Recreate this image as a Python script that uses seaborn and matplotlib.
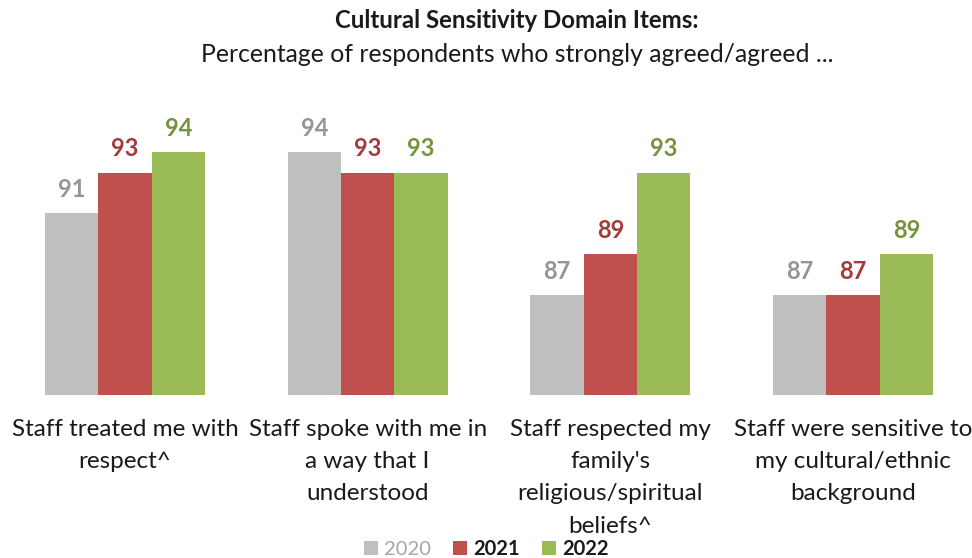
import matplotlib
matplotlib.use("Agg")
import matplotlib.pyplot as plt
from matplotlib.patches import Patch
import seaborn as sns
import pandas as pd

# Survey items and yearly agreement percentages
items = [
    "Staff treated me with\nrespect^",
    "Staff spoke with me in\na way that I\nunderstood",
    "Staff respected my\nfamily's\nreligious/spiritual\nbeliefs^",
    "Staff were sensitive to\nmy cultural/ethnic\nbackground",
]
years = ["2020", "2021", "2022"]
pct_2020 = [91, 94, 87, 87]
pct_2021 = [93, 93, 89, 87]
pct_2022 = [94, 93, 93, 89]

bar_colors = ["#BFBFBF", "#C0504D", "#9BBB59"]
label_colors = ["#959595", "#A33B3A", "#76923C"]

df = pd.DataFrame({
    "item": items * 3,
    "year": [y for y in years for _ in items],
    "pct": pct_2020 + pct_2021 + pct_2022,
})

sns.set_theme(style="white")
plt.rcParams["font.family"] = ["Lato", "DejaVu Sans"]

fig = plt.figure(figsize=(9.72, 5.58), dpi=100)
ax = fig.add_axes([3.5 / 972, 163 / 558, 971 / 972, 283.6 / 558])

sns.barplot(data=df, x="item", y="pct", hue="year", order=items,
            hue_order=years, palette=bar_colors, width=0.66,
            saturation=1, legend=False, linewidth=0, ax=ax)

ax.set_ylim(82.1, 96.0)
ax.set_xlim(-0.5, 3.5)
for cont, col in zip(ax.containers, label_colors):
    ax.bar_label(cont, fmt="%.0f", padding=9, color=col,
                 fontsize=17, fontweight="bold", clip_on=False)

ax.set_xlabel("")
ax.set_ylabel("")
ax.set_yticks([])
ax.tick_params(axis="x", length=0, pad=17, labelsize=17.5)
for lbl in ax.get_xticklabels():
    lbl.set_linespacing(1.67)
    lbl.set_color("#1a1a1a")
    lbl.set_verticalalignment("top")
sns.despine(ax=ax, left=True, bottom=True)

fig.text(0.532, 1 - 20 / 558, "Cultural Sensitivity Domain Items:",
         ha="center", va="center", fontsize=17.3, fontweight="bold",
         color="#1a1a1a")
fig.text(0.532, 1 - 55 / 558,
         "Percentage of respondents who strongly agreed/agreed ...",
         ha="center", va="center", fontsize=17.8, color="#1a1a1a")

handles = [Patch(facecolor=c, edgecolor="none") for c in bar_colors]
leg = fig.legend(handles, years, loc="center", bbox_to_anchor=(0.5, 1 - 549 / 558),
                 ncol=3, frameon=False, fontsize=14.5, handlelength=0.7,
                 handleheight=0.7, handletextpad=0.3, columnspacing=1.1,
                 borderaxespad=0)
texts = leg.get_texts()
texts[0].set_color("#A6A6A6")
for t in texts[1:]:
    t.set_fontweight("bold")
    t.set_color("#1a1a1a")

fig.savefig("out.png", dpi=100)
